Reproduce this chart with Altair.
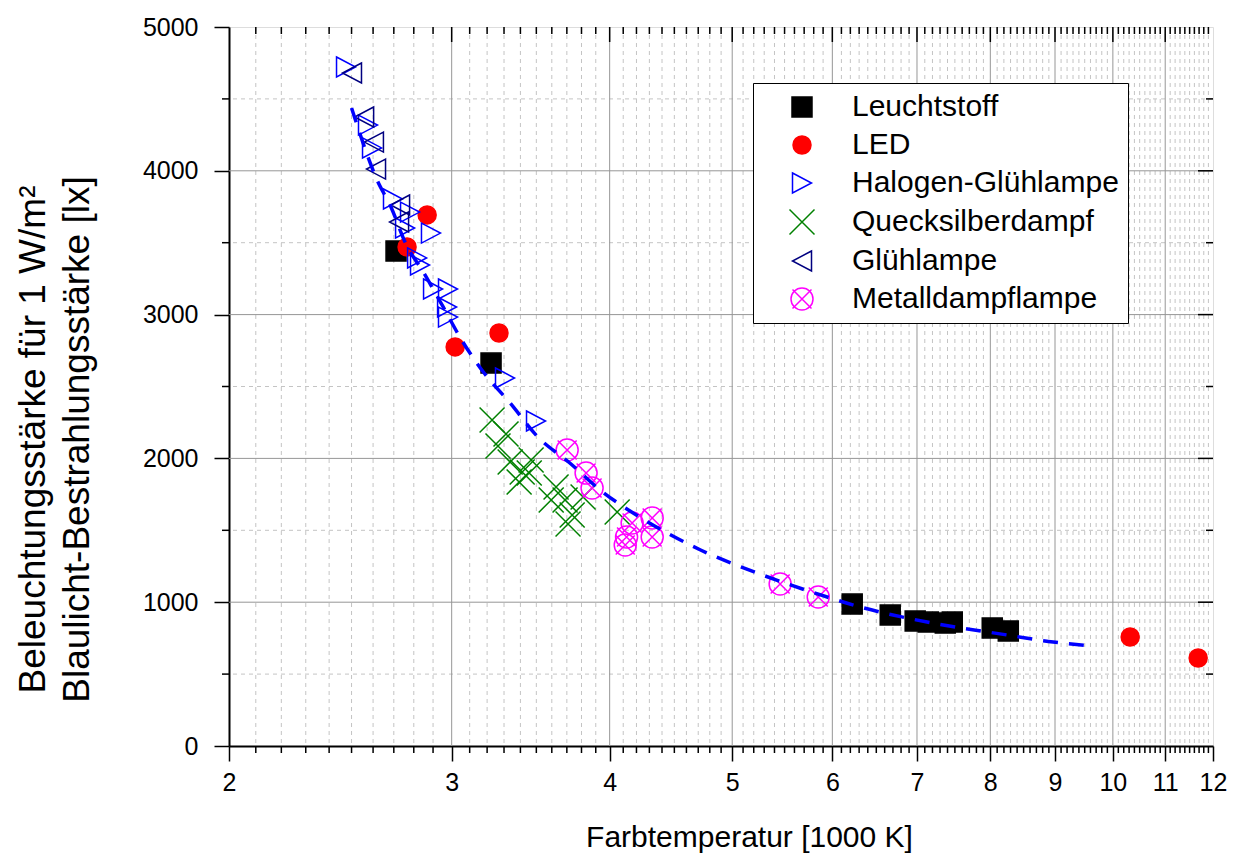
import altair as alt
import pandas as pd

# ---- data ----
leucht_x = [2.711, 3.223, 6.221, 6.667, 6.977, 7.145, 7.37, 7.464, 8.028, 8.266]
leucht_y = [3442, 2663, 987, 911, 869, 862, 855, 862, 821, 800]

led_x = [2.869, 2.766, 3.019, 3.270, 10.32, 11.68]
led_y = [3693, 3470, 2775, 2872, 758, 612]

halogen_x = [2.475, 2.576, 2.595, 2.696, 2.781, 2.889, 2.756, 2.817, 2.832,
             2.900, 2.980, 2.975, 2.980, 3.306, 3.498]
halogen_y = [4722, 4318, 4159, 3804, 3713, 3567, 3602, 3394, 3345,
             3178, 3178, 3053, 2983, 2559, 2260]

queck_x = [3.229, 3.312, 3.264, 3.337, 3.411, 3.467, 3.455, 3.392, 3.628,
           3.596, 3.688, 3.736, 3.811, 3.708, 4.055]
queck_y = [2267, 2170, 2086, 1975, 1905, 1989, 1898, 1836, 1801,
           1711, 1711, 1606, 1732, 1544, 1627]

glueh_x = [2.502, 2.558, 2.604, 2.614, 2.731, 2.726]
glueh_y = [4680, 4374, 4200, 4012, 3762, 3644]

metall_x = [3.702, 3.832, 3.874, 4.167, 4.322, 4.115, 4.125, 4.322, 5.456, 5.848]
metall_y = [2058, 1898, 1794, 1551, 1586, 1398, 1453, 1453, 1127, 1036]

fit_x = [2.50, 2.619, 2.686, 2.758, 2.852, 2.954, 3.055, 3.178, 3.337, 3.510,
         3.72, 3.931, 4.175, 4.442, 4.72, 5.232, 5.56, 5.944, 6.31, 7.13,
         8.25, 8.97, 9.65]
fit_y = [4437, 3936, 3748, 3498, 3289, 3053, 2823, 2601, 2385, 2149,
         1968, 1780, 1620, 1481, 1363, 1203, 1120, 1036, 967, 862,
         772, 723, 695]

types = ["Leuchtstoff", "LED", "Halogen-Glühlampe", "Quecksilberdampf",
         "Glühlampe", "Metalldampflampe"]
x_ticks = [2, 3, 4, 5, 6, 7, 8, 9, 10, 11, 12]
y_ticks = [0, 1000, 2000, 3000, 4000, 5000]

# ---- build tables ----
series = [(leucht_x, leucht_y), (led_x, led_y), (halogen_x, halogen_y),
          (queck_x, queck_y), (glueh_x, glueh_y), (metall_x, metall_y)]
rows = []
for t, (xs, ys) in zip(types, series):
    for a, b in zip(xs, ys):
        rows.append({"T": a, "E": b, "Typ": t})
df = pd.DataFrame(rows)
fit_df = pd.DataFrame({"T": fit_x, "E": fit_y})

x_major_inner = [v for v in x_ticks if 2 < v < 12]
x_minor = [round(2 + 0.1 * i, 1) for i in range(1, 100) if i % 10 != 0]
y_major_inner = [v for v in y_ticks if 0 < v < 5000]
y_minor = [500, 1500, 2500, 3500, 4500]

W, H = 984, 719
FONT = "Liberation Sans"
LABEL_FS = 25
XTITLE = "Farbtemperatur [1000 K]"
YTITLE = ["Beleuchtungsstärke für 1 W/m²", "Blaulicht-Bestrahlungsstärke [lx]"]

xscale = alt.Scale(type="log", domain=[2, 12], nice=False, zero=False)
yscale = alt.Scale(domain=[0, 5000], nice=False, zero=True)

xaxis = alt.Axis(values=x_ticks, format="d", grid=False,
                 tickSize=15, tickWidth=1.5, tickColor="black",
                 domainColor="black", domainWidth=2,
                 labelFontSize=LABEL_FS, labelPadding=9, labelColor="black",
                 labelFont=FONT, labelFlush=False, labelOverlap=False,
                 titleFontSize=30, titleFont=FONT, titleFontWeight="normal",
                 titleColor="black", titleX=520, titleY=100,
                 titleBaseline="alphabetic", titleAlign="center")
yaxis = alt.Axis(values=y_ticks, format="d", grid=False,
                 tickSize=15, tickWidth=1.5, tickColor="black",
                 domainColor="black", domainWidth=2,
                 labelFontSize=LABEL_FS, labelPadding=16, labelColor="black",
                 labelFont=FONT, labelFlush=False, labelOverlap=False,
                 titleFontSize=37, titleFont=FONT, titleFontWeight="normal",
                 titleColor="black", titleLineHeight=44,
                 titleX=-196, titleY=412, titleAngle=-90,
                 titleAlign="center", titleBaseline="middle")

def X(field="T"):
    return alt.X(f"{field}:Q", scale=xscale, title=XTITLE, axis=xaxis)

def Y(field="E"):
    return alt.Y(f"{field}:Q", scale=yscale, title=YTITLE, axis=yaxis)

shapes = [
    "square",
    "M0.9,0A0.9,0.9,0,1,1,-0.9,0A0.9,0.9,0,1,1,0.9,0Z",
    "M-0.95,-1L0.95,0L-0.95,1Z",
    "M-1.25,-1.25L1.25,1.25M-1.25,1.25L1.25,-1.25",
    "M0.95,-1L-0.95,0L0.95,1Z",
    "M1.1,0A1.1,1.1,0,1,1,-1.1,0A1.1,1.1,0,1,1,1.1,0ZM-0.95,-0.95L0.95,0.95M-0.95,0.95L0.95,-0.95",
]
strokes = ["#000000", "#FF0000", "#0000FF", "#008000", "#000080", "#FF00FF"]
fills = ["#000000", "#FF0000", "transparent", "transparent", "transparent", "transparent"]

legend = alt.Legend(orient="none", legendX=524, legendY=56, title=None,
                    padding=9, strokeColor="black", fillColor="white",
                    labelFontSize=30, labelFont=FONT, labelColor="black",
                    symbolOffset=25, labelOffset=35, rowPadding=8,
                    symbolSize=400, symbolStrokeWidth=1.5, labelLimit=400)

def frame(vals, col):
    return alt.Chart(pd.DataFrame({col: vals}))

def vrule(vals, color, dash=None, width=1):
    kw = dict(color=color, strokeWidth=width)
    if dash:
        kw["strokeDash"] = dash
    return frame(vals, "T").mark_rule(**kw).encode(x=X())

def hrule(vals, color, dash=None, width=1):
    kw = dict(color=color, strokeWidth=width)
    if dash:
        kw["strokeDash"] = dash
    return frame(vals, "E").mark_rule(**kw).encode(y=Y())

grid_minor_v = vrule(x_minor, "#c4c4c4", [4, 4])
grid_minor_h = hrule(y_minor, "#c4c4c4", [4, 4])
grid_major_v = vrule(x_major_inner, "#969696")
grid_major_h = hrule(y_major_inner, "#969696")

points = alt.Chart(df).mark_point(filled=True, opacity=1, strokeWidth=1.5, size=400).encode(
    x=X(), y=Y(),
    shape=alt.Shape("Typ:N", scale=alt.Scale(domain=types, range=shapes), legend=legend),
    stroke=alt.Stroke("Typ:N", scale=alt.Scale(domain=types, range=strokes), legend=legend),
    fill=alt.Fill("Typ:N", scale=alt.Scale(domain=types, range=fills), legend=legend),
)

fit_line = alt.Chart(fit_df).mark_line(
    color="#0000FF", strokeWidth=3.5, strokeDash=[15, 11], interpolate="monotone"
).encode(x=X(), y=Y())

def xticks(vals, y0, y1):
    return frame(vals, "T").mark_rule(color="black", strokeWidth=1.5).encode(
        x=X(), y=alt.value(y0), y2=alt.value(y1))

def yticks(vals, x0, x1):
    return frame(vals, "E").mark_rule(color="black", strokeWidth=1.5).encode(
        y=Y(), x=alt.value(x0), x2=alt.value(x1))

tick_layers = [
    xticks(x_minor, H, H + 7),          # bottom minor (out)
    xticks(x_minor, 0, 7),              # top minor (in)
    xticks(x_major_inner, 0, 15),       # top major (in)
    yticks(y_minor, 0, -7),             # left minor (out)
    yticks(y_minor, W, W - 7),          # right minor (in)
    yticks(y_major_inner, W, W - 15),   # right major (in)
]

chart = alt.layer(
    grid_minor_v, grid_minor_h, grid_major_v, grid_major_h,
    points, fit_line, *tick_layers
).properties(
    width=W, height=H,
    autosize=alt.AutoSizeParams(type="none"),
    padding={"left": 221, "top": 19, "right": 17, "bottom": 108},
).configure_view(
    stroke="black", strokeWidth=2
).configure_axis(
    labelFontSize=LABEL_FS, labelFont=FONT
).configure(font=FONT, background="white")

chart.save("out.html", embed_options={"renderer": "svg", "actions": False})
